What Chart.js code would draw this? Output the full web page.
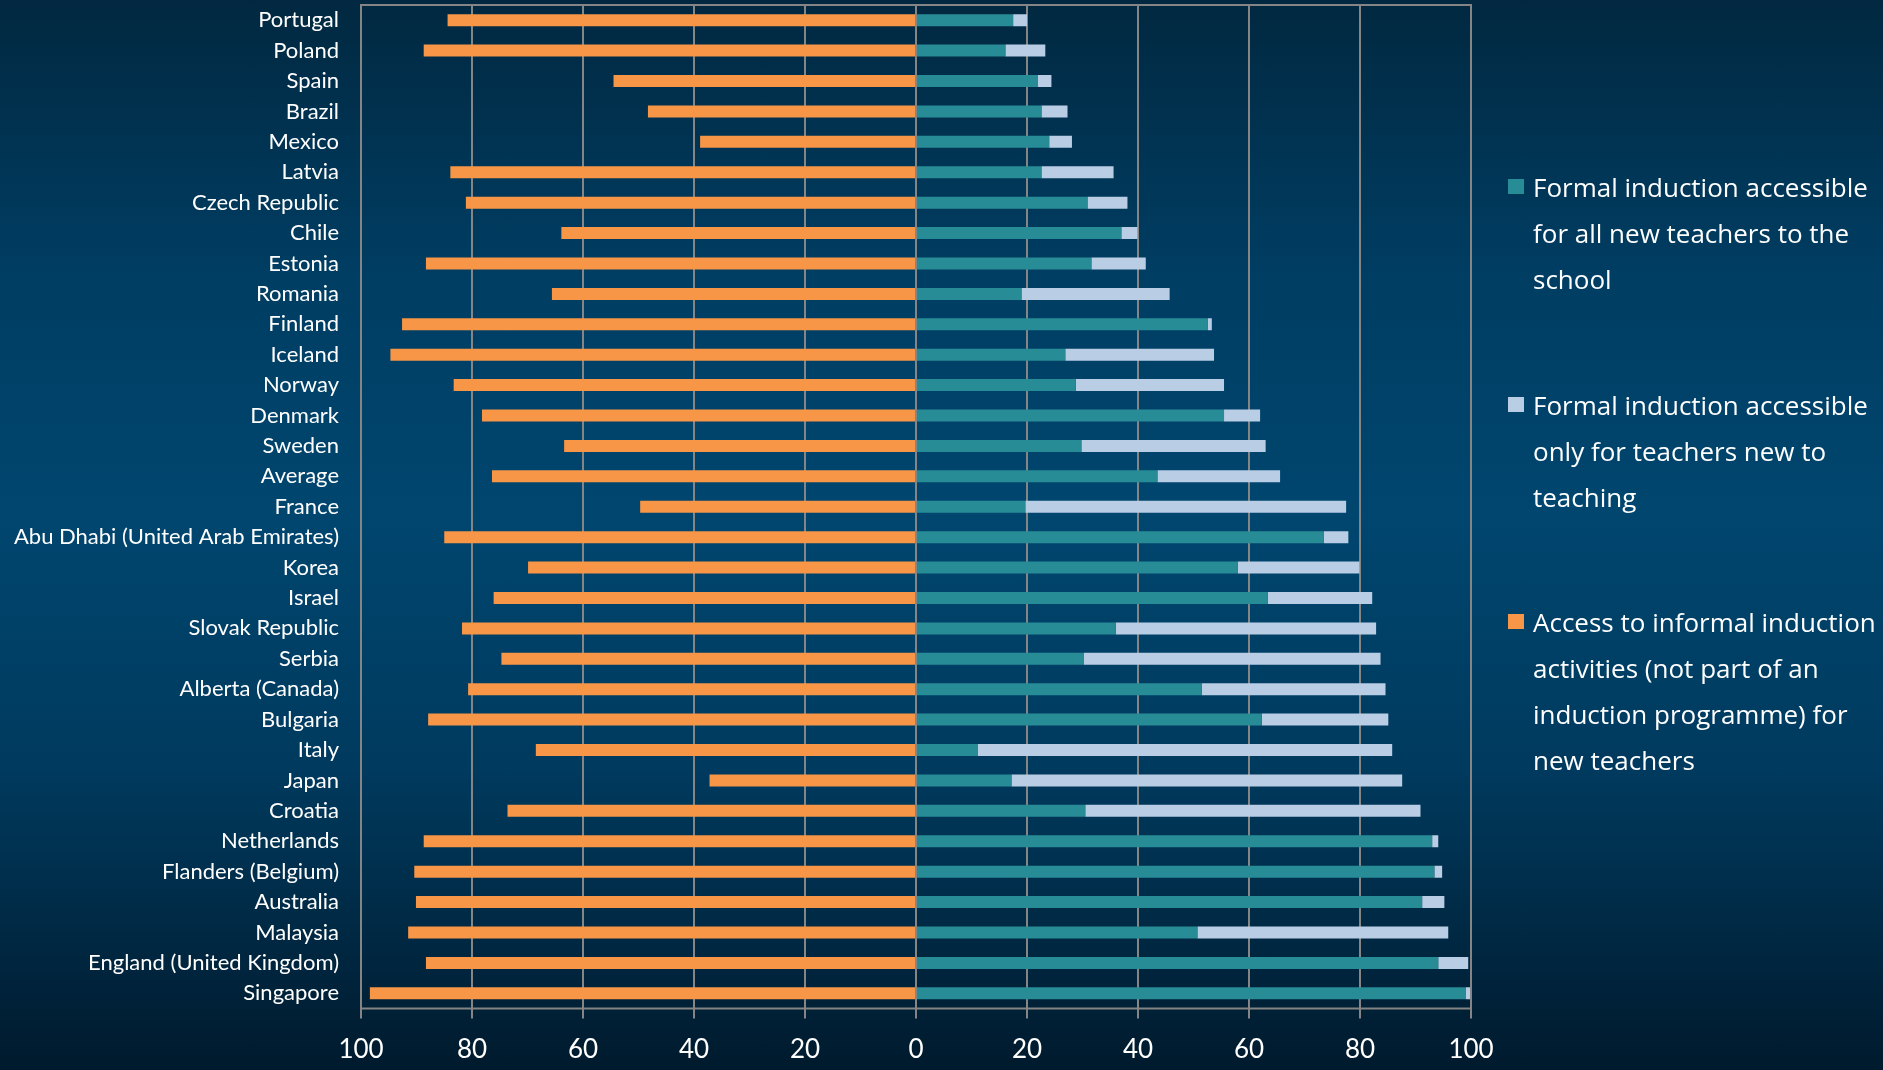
<!DOCTYPE html>
<html lang="en">
<head>
  <meta charset="UTF-8">
  <title>Induction programmes</title>
  <script src="https://cdn.jsdelivr.net/npm/chart.js"></script>
  <style>
    html, body { margin: 0; padding: 0; overflow: hidden; }
    body {
      width: 1883px; height: 1070px;
      background: linear-gradient(to bottom, #012840 0%, #003d62 25%, #00466f 48%, #003a5e 72%, #001a2d 100%);
      position: relative;
    }
    #chart { position: absolute; left: 0; top: 0; }
    .legend { position: absolute; left: 1508px; top: 0; font-family: "Open Sans", sans-serif; font-size: 26px; color: #ffffff; }
    .legend-item { position: absolute; left: 0; width: 380px; }
    .legend-item .box { position: absolute; left: 0; top: 15px; width: 16px; height: 15px; }
    .legend-item .text { position: absolute; left: 25px; line-height: 46px; white-space: nowrap; }
  </style>
</head>
<body>

<canvas id="chart" width="1883" height="1070"></canvas>
<div class="legend" id="legend"></div>

<script>

const categories = ['Portugal', 'Poland', 'Spain', 'Brazil', 'Mexico', 'Latvia', 'Czech Republic', 'Chile',
  'Estonia', 'Romania', 'Finland', 'Iceland', 'Norway', 'Denmark', 'Sweden', 'Average', 'France',
  'Abu Dhabi (United Arab Emirates)', 'Korea', 'Israel', 'Slovak Republic', 'Serbia', 'Alberta (Canada)',
  'Bulgaria', 'Italy', 'Japan', 'Croatia', 'Netherlands', 'Flanders (Belgium)', 'Australia', 'Malaysia',
  'England (United Kingdom)', 'Singapore'];

// formal induction for all new teachers to the school
const formalAll = [17.5, 16.1, 21.9, 22.6, 24.0, 22.6, 30.9, 37.0, 31.6, 19.0, 52.6, 26.9, 28.8, 55.5, 29.8, 43.5, 19.7,
  73.5, 58.0, 63.4, 36.0, 30.2, 51.5, 62.3, 11.1, 17.2, 30.5, 93.0, 93.4, 91.2, 50.7, 94.1, 99.1];

// formal induction only for teachers new to teaching
const formalNew = [2.5, 7.2, 2.5, 4.7, 4.1, 13.0, 7.2, 2.9, 9.8, 26.7, 0.7, 26.8, 26.7, 6.5, 33.2, 22.1, 57.8,
  4.4, 21.9, 18.8, 46.9, 53.5, 33.1, 22.8, 74.7, 70.4, 60.4, 1.1, 1.4, 4.0, 45.2, 5.4, 0.8];

// informal induction activities (drawn to the left)
const informal = [84.4, 88.7, 54.5, 48.3, 38.9, 83.9, 81.1, 63.9, 88.3, 65.6, 92.6, 94.7, 83.3, 78.2, 63.4, 76.4, 49.7,
  85.0, 69.9, 76.1, 81.8, 74.7, 80.7, 87.9, 68.5, 37.2, 73.6, 88.7, 90.4, 90.1, 91.5, 88.3, 98.4];

const xTicks = [-100, -80, -60, -40, -20, 0, 20, 40, 60, 80, 100];

const seriesLabels = [
  ['Formal induction accessible', 'for all new teachers to the', 'school'],
  ['Formal induction accessible', 'only for teachers new to', 'teaching'],
  ['Access to informal induction', 'activities (not part of an', 'induction programme) for', 'new teachers']
];
const seriesColors = ['#278c96', '#b9cde5', '#f79646'];

const gridColor = '#858585';

// frame round the plot and the zero line on top of the bars
const framePlugin = {
  id: 'frame',
  afterDatasetsDraw(chart) {
    const { ctx, chartArea } = chart;
    const x0 = chart.scales.x.getPixelForValue(0);
    ctx.save();
    ctx.strokeStyle = gridColor;
    ctx.lineWidth = 2;
    ctx.strokeRect(chartArea.left, chartArea.top, chartArea.right - chartArea.left, chartArea.bottom - chartArea.top);
    ctx.beginPath();
    ctx.moveTo(x0, chartArea.top);
    ctx.lineTo(x0, chartArea.bottom);
    ctx.stroke();
    ctx.restore();
  }
};

const data = {
  labels: categories,
  datasets: [
    { label: seriesLabels[0].join(' '), data: formalAll, backgroundColor: seriesColors[0], stack: 's' },
    { label: seriesLabels[1].join(' '), data: formalNew, backgroundColor: seriesColors[1], stack: 's' },
    { label: seriesLabels[2].join(' '), data: informal.map(v => -v), backgroundColor: seriesColors[2], stack: 's' }
  ]
};

const config = {
  type: 'bar',
  data: data,
  options: {
    indexAxis: 'y',
    responsive: false,
    animation: false,
    barPercentage: 0.395,
    categoryPercentage: 1,
    layout: { padding: { left: 0, right: 412, top: 5, bottom: 0 } },
    plugins: {
      legend: { display: false },
      tooltip: { enabled: false }
    },
    scales: {
      x: {
        stacked: true,
        min: -100,
        max: 100,
        afterBuildTicks(scale) { scale.ticks = xTicks.map(v => ({ value: v })); },
        afterFit(scale) { scale.height = 61.5; scale.paddingLeft = 0; scale.paddingRight = 0; },
        grid: { color: gridColor, lineWidth: 2, tickLength: 10, drawTicks: true },
        border: { display: false },
        ticks: {
          color: '#ffffff',
          padding: 16,
          maxRotation: 0,
          font: { family: 'Lato', size: 26 },
          callback: v => Math.abs(v)
        }
      },
      y: {
        stacked: true,
        afterFit(scale) { scale.width = 361; scale.paddingTop = 0; scale.paddingBottom = 0; },
        grid: { display: false, drawTicks: false },
        border: { display: false },
        ticks: {
          color: '#ffffff',
          padding: 22,
          autoSkip: false,
          font: { family: 'Lato', size: 22 }
        }
      }
    }
  },
  plugins: [framePlugin]
};

const myChart = new Chart(document.getElementById('chart'), config);

// legend with the same wrapped lines as the original
const legendTops = [164, 382, 599];
const legend = document.getElementById('legend');
seriesLabels.forEach((lines, i) => {
  const item = document.createElement('div');
  item.className = 'legend-item';
  item.style.top = legendTops[i] + 'px';
  const box = document.createElement('div');
  box.className = 'box';
  box.style.background = seriesColors[i];
  const text = document.createElement('div');
  text.className = 'text';
  text.innerHTML = lines.join('<br>');
  item.appendChild(box);
  item.appendChild(text);
  legend.appendChild(item);
});

</script>
</body>
</html>
